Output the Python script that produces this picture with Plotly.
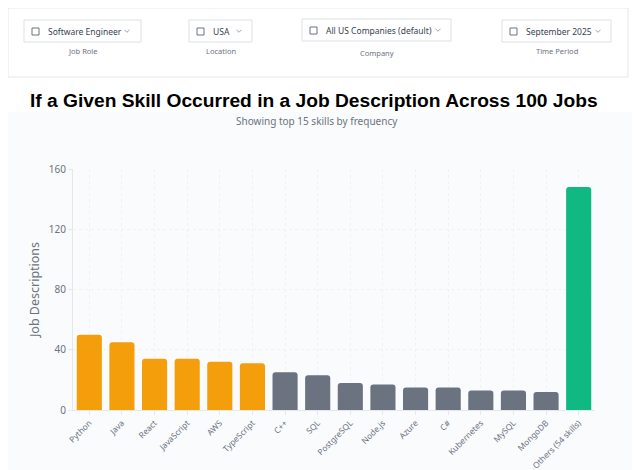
import plotly.graph_objects as go

# page body adds an 8px margin, so the figure is 8px smaller and everything
# below is placed in reference pixel coordinates
OFF = 8
W, H = 640 - OFF, 470 - OFF

skills = ["Python", "Java", "React", "JavaScript", "AWS", "TypeScript", "C++", "SQL",
          "PostgreSQL", "Node.js", "Azure", "C#", "Kubernetes", "MySQL", "MongoDB",
          "Others (54 skills)"]
counts = [50, 45, 34, 34, 32, 31, 25, 23, 18, 17, 15, 15, 13, 13, 12, 148]
groups = ["top"] * 6 + ["mid"] * 9 + ["other"]
group_colors = {"top": "#f59e0b", "mid": "#6b7280", "other": "#10b981"}

y_ticks = [0, 40, 80, 120, 160]

filters = [
    ("Software Engineer", "Job Role"),
    ("USA", "Location"),
    ("All US Companies (default)", "Company"),
    ("September 2025", "Time Period"),
]

# plot area in reference pixels
PL, PR, PT, PB = 73, 595, 169, 410


def px(x):
    return (x - PL) / (PR - PL)


def py(y):
    return (PB - y) / (PB - PT)


fig = go.Figure()
fig.add_trace(go.Bar(
    x=skills,
    y=counts,
    marker=dict(color=[group_colors[g] for g in groups], line=dict(width=0)),
    width=0.77,
    hoverinfo="x+y",
))

shapes = []
annotations = []

# chart card background
shapes.append(dict(type="rect", xref="paper", yref="paper", layer="below",
                   x0=px(4), x1=px(634), y0=py(470), y1=py(112),
                   fillcolor="#fafbfc", line=dict(width=0)))

# filter panel card
shapes.append(dict(type="rect", xref="paper", yref="paper", layer="below",
                   x0=px(8), x1=px(628), y0=py(77), y1=py(8),
                   fillcolor="#ffffff", line=dict(color="#e5e7eb", width=1)))

# box x0, x1, y0, y1, text start, chevron x, label y
boxes = [
    (24, 141, 20, 42, 46, 127, 51),
    (189, 252, 20, 42, 211, 239, 51),
    (302, 451, 19, 41, 324, 438, 53),
    (502, 611, 20, 42, 524, 598, 51),
]
for (text, label), (x0, x1, y0, y1, tx, cx, ly) in zip(filters, boxes):
    cy = (y0 + y1) / 2
    shapes.append(dict(type="rect", xref="paper", yref="paper",
                       x0=px(x0), x1=px(x1), y0=py(y1), y1=py(y0),
                       fillcolor="#ffffff", line=dict(color="#dde0e4", width=1)))
    # small icon outline
    shapes.append(dict(type="rect", xref="paper", yref="paper",
                       x0=px(tx - 14), x1=px(tx - 7), y0=py(cy + 4), y1=py(cy - 3),
                       line=dict(color="#6b7280", width=1)))
    # chevron
    shapes.append(dict(type="path", xref="paper", yref="paper",
                       path="M %f %f L %f %f L %f %f" % (
                           px(cx - 2.5), py(cy - 1.2), px(cx), py(cy + 1.3),
                           px(cx + 2.5), py(cy - 1.2)),
                       line=dict(color="#9ca3af", width=1)))
    annotations.append(dict(text=text, xref="paper", yref="paper",
                            x=px(tx), y=py(cy), xanchor="left",
                            yanchor="middle", showarrow=False,
                            font=dict(size=8.5, color="#374151", family="Noto Sans")))
    annotations.append(dict(text=label, xref="paper", yref="paper",
                            x=px((x0 + x1) / 2), y=py(ly), xanchor="center",
                            yanchor="middle", showarrow=False,
                            font=dict(size=7.5, color="#6b7280", family="Noto Sans")))

# titles
annotations.append(dict(text="<b>If a Given Skill Occurred in a Job Description Across 100 Jobs</b>",
                        xref="paper", yref="paper", x=px(314), y=py(101),
                        xanchor="center", yanchor="middle", showarrow=False,
                        font=dict(size=19.2, color="#000000", family="Liberation Sans")))
annotations.append(dict(text="Showing top 15 skills by frequency",
                        xref="paper", yref="paper", x=px(317), y=py(121),
                        xanchor="center", yanchor="middle", showarrow=False,
                        font=dict(size=10, color="#6b7280", family="Noto Sans")))

fig.update_layout(
    width=W, height=H,
    margin=dict(l=PL - OFF, r=640 - PR, t=PT - OFF, b=470 - PB, pad=0),
    paper_bgcolor="#ffffff",
    plot_bgcolor="rgba(0,0,0,0)",
    showlegend=False,
    barcornerradius=3,
    shapes=shapes,
    annotations=annotations,
    font=dict(family="Noto Sans", color="#6b7280"),
    xaxis=dict(
        automargin=False,
        tickangle=-45,
        tickfont=dict(size=8.3, color="#6b7280"),
        showgrid=True, gridcolor="#f0f1f3", griddash="dot",
        showline=True, linecolor="#e5e7eb",
        ticks="outside", ticklen=4, tickcolor="#e5e7eb",
        fixedrange=True,
    ),
    yaxis=dict(
        automargin=False,
        range=[0, 160],
        tickvals=y_ticks,
        tickfont=dict(size=10, color="#6b7280"),
        showgrid=True, gridcolor="#f0f1f3", griddash="dot",
        zeroline=False,
        showline=True, linecolor="#e5e7eb",
        ticks="outside", ticklen=4, tickcolor="#e5e7eb",
        title=dict(text="Job Descriptions", standoff=6,
                   font=dict(size=12.5, color="#6b7280")),
        fixedrange=True,
    ),
)

fig.write_html("out.html")
